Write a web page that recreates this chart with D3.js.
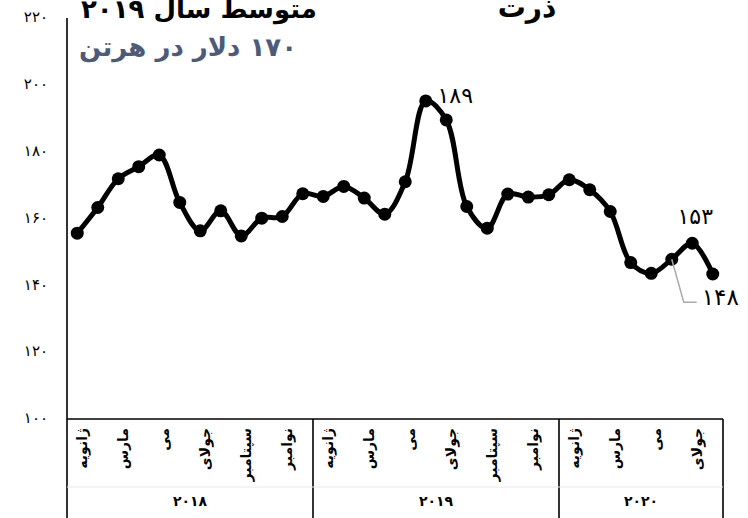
<!DOCTYPE html>
<html>
<head>
<meta charset="utf-8">
<script src="https://cdn.jsdelivr.net/npm/d3@7"></script>
<style>
  body { margin: 0; background: #fff; }
  svg { display: block; font-family: 'DejaVu Sans', sans-serif; }
</style>
</head>
<body>
<svg id="chart" width="748" height="518"></svg>
<script>
// data
const years = ['2018', '2019', '2020']
const monthsPerYear = [12, 12, 8]
const monthNames = ['ژانویه', 'فوریه', 'مارس', 'آوریل', 'می', 'ژوئن', 'جولای', 'اوت', 'سپتامبر', 'اکتبر', 'نوامبر', 'دسامبر']
const prices = [
  155.3, 163.0, 171.6, 175.2, 178.7, 164.5, 156.0, 162.0, 154.5, 159.8, 160.3, 167.1,
  166.3, 169.3, 165.8, 161.0, 170.7, 194.9, 189.2, 163.3, 156.8, 167.0, 166.1, 166.8,
  171.3, 168.3, 161.8, 146.5, 143.3, 147.5, 152.3, 143.1
]
const yTicks = [100, 120, 140, 160, 180, 200, 220]
const callouts = [
  { idx: 18, text: '189' },
  { idx: 30, text: '153' },
  { idx: 29, text: '148' }
]

const W = 748
const H = 518
const plotLeft = 67
const plotRight = 723
const plotTop = 17
const plotBottom = 419

const fa = s => String(s).replace(/\d/g, d => '۰۱۲۳۴۵۶۷۸۹'[d])

// build month keys
const months = []
years.forEach((yr, yi) => {
  for (let m = 0; m < monthsPerYear[yi]; m++) months.push({ key: yr + '-' + m, year: yr, m })
})
const series = months.map((d, i) => ({ ...d, v: prices[i] }))

const svg = d3.select('#chart')

const x = d3.scaleBand().domain(months.map(d => d.key)).range([plotLeft, plotRight]).padding(0)
const y = d3.scaleLinear().domain([100, 220]).range([plotBottom - 1, plotTop])
const cx = k => x(k) + x.bandwidth() / 2

// titles (partly cut by top edge, as in the source)
svg.append('text')
  .attr('x', 81).attr('y', 18)
  .attr('direction', 'rtl').attr('text-anchor', 'end')
  .attr('font-size', 26).attr('font-weight', 'bold').attr('fill', '#000')
  .text('متوسط سال ' + fa(2019))

svg.append('text')
  .attr('x', 527).attr('y', 17)
  .attr('text-anchor', 'middle')
  .attr('font-size', 28).attr('font-weight', 'bold').attr('fill', '#000')
  .text('ذرت')

svg.append('text')
  .attr('x', 79).attr('y', 56)
  .attr('direction', 'rtl').attr('text-anchor', 'end')
  .attr('font-size', 26).attr('font-weight', 'bold').attr('fill', '#4e5b78')
  .text(fa(170) + ' دلار در هرتن')

// y axis
const yAxis = svg.append('g')
  .attr('transform', `translate(${plotLeft},0)`)
  .call(d3.axisLeft(y).tickValues(yTicks).tickSize(0).tickPadding(19).tickFormat(fa))
yAxis.select('.domain').remove()
yAxis.selectAll('text').attr('font-size', 15).attr('font-family', 'DejaVu Sans')

// axis frame
const frame = svg.append('g').attr('stroke', '#000').attr('stroke-width', 1.6)
frame.append('line').attr('x1', plotLeft).attr('x2', plotLeft).attr('y1', y(220) + 1).attr('y2', H)
frame.append('line').attr('x1', plotLeft).attr('x2', plotRight).attr('y1', plotBottom).attr('y2', plotBottom)
frame.append('line').attr('x1', plotRight).attr('x2', plotRight).attr('y1', plotBottom).attr('y2', H)

svg.append('line')
  .attr('x1', plotLeft).attr('x2', plotRight).attr('y1', 487).attr('y2', 487)
  .attr('stroke', '#e8e8e8').attr('stroke-width', 1)

// year separators + labels
let start = 0
years.forEach((yr, yi) => {
  const firstKey = months[start].key
  const lastKey = months[start + monthsPerYear[yi] - 1].key
  const x0 = x(firstKey)
  const x1 = x(lastKey) + x.bandwidth()
  if (yi > 0) {
    frame.append('line').attr('x1', x0).attr('x2', x0).attr('y1', plotBottom).attr('y2', H)
  }
  svg.append('text')
    .attr('x', (x0 + x1) / 2).attr('y', 506)
    .attr('text-anchor', 'middle')
    .attr('font-size', 14).attr('font-weight', 'bold')
    .text(fa(yr))
  start += monthsPerYear[yi]
})

// month labels (every other month)
svg.append('g')
  .selectAll('text')
  .data(months.filter(d => d.m % 2 === 0))
  .join('text')
  .attr('transform', d => `translate(${cx(d.key) + 5},428) rotate(-90)`)
  .attr('text-anchor', 'end')
  .attr('dy', '0.35em')
  .attr('font-size', 14).attr('font-weight', 'bold')
  .text(d => monthNames[d.m])

// line
const line = d3.line()
  .x(d => cx(d.key))
  .y(d => y(d.v))
  .curve(d3.curveCatmullRom.alpha(0.5))

svg.append('path')
  .datum(series)
  .attr('d', line)
  .attr('fill', 'none')
  .attr('stroke', '#000')
  .attr('stroke-width', 5)
  .attr('stroke-linejoin', 'round')

svg.append('g')
  .selectAll('circle')
  .data(series)
  .join('circle')
  .attr('cx', d => cx(d.key))
  .attr('cy', d => y(d.v))
  .attr('r', 6.5)
  .attr('fill', '#000')

// callouts
const c189 = series[callouts[0].idx]
svg.append('text')
  .attr('x', cx(c189.key) + 9).attr('y', y(c189.v) - 17)
  .attr('text-anchor', 'middle').attr('font-size', 22)
  .text(fa(callouts[0].text))

const c153 = series[callouts[1].idx]
svg.append('text')
  .attr('x', cx(c153.key) + 3).attr('y', y(c153.v) - 19)
  .attr('text-anchor', 'middle').attr('font-size', 22)
  .text(fa(callouts[1].text))

const c148 = series[callouts[2].idx]
const px = cx(c148.key)
const py = y(c148.v)
svg.append('path')
  .attr('d', `M${px},${py}L${px + 12},${py + 43}L${px + 25},${py + 43}`)
  .attr('fill', 'none').attr('stroke', '#aaa').attr('stroke-width', 1.5)
svg.append('text')
  .attr('x', px + 30).attr('y', py + 46)
  .attr('font-size', 23)
  .text(fa(callouts[2].text))
</script>
</body>
</html>
